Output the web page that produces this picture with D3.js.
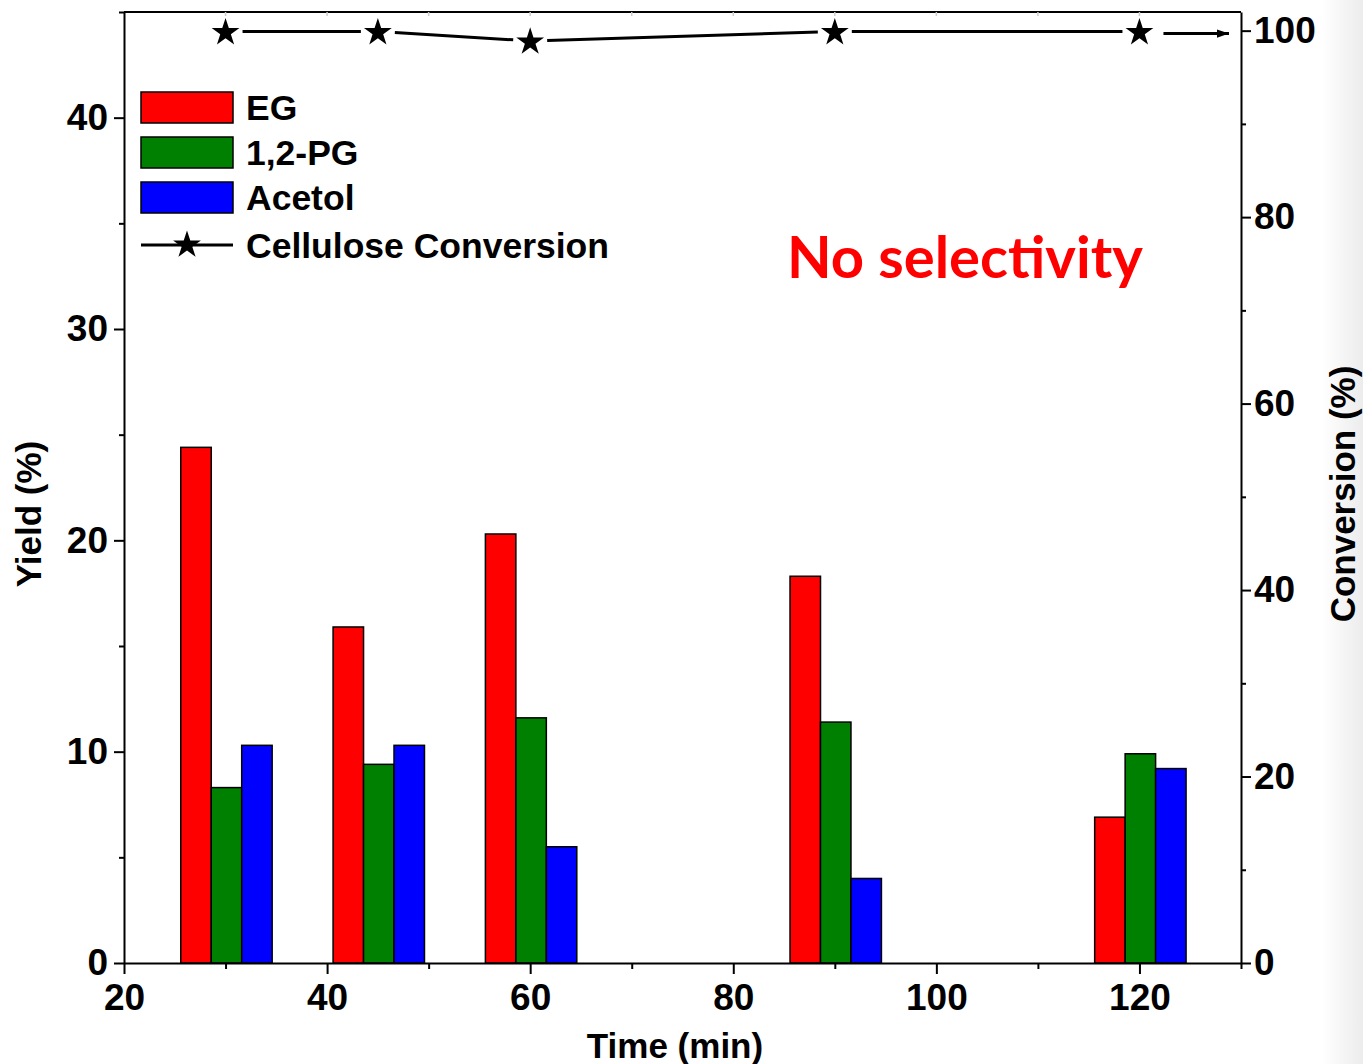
<!DOCTYPE html>
<html>
<head>
<meta charset="utf-8">
<script src="https://cdn.jsdelivr.net/npm/d3@7"></script>
<style>
  html, body { margin: 0; padding: 0; background: #fff; }
  svg { display: block; }
</style>
</head>
<body>
<div id="chart"></div>
<script>
// data
const times = [30, 45, 60, 90, 120];
const series = ["EG", "1,2-PG", "Acetol"];
const colors = ["#ff0000", "#008000", "#0000ff"];
const egYield = [24.4, 15.9, 20.3, 18.3, 6.9];
const pgYield = [8.3, 9.4, 11.6, 11.4, 9.9];
const acetolYield = [10.3, 10.3, 5.5, 4.0, 9.2];
const conversion = [99.9, 99.9, 98.9, 99.9, 99.9];
const xTicks = [20, 40, 60, 80, 100, 120];
const yTicks = [0, 10, 20, 30, 40];
const y2Ticks = [0, 20, 40, 60, 80, 100];

const width = 1363;
const height = 1064;
const plotLeft = 124, plotRight = 1241, plotTop = 12, plotBottom = 963;
const font = "'Liberation Sans', Arial, sans-serif";

const x = d3.scaleLinear().domain([20, 130]).range([plotLeft, plotRight]);
const y = d3.scaleLinear().domain([0, 45]).range([plotBottom, plotTop]);
const y2 = d3.scaleLinear().domain([0, 102]).range([plotBottom, plotTop]);

const svg = d3.create("svg")
    .attr("width", width)
    .attr("height", height)
    .attr("viewBox", [0, 0, width, height]);

// faint shade at the right edge of the picture
const defs = svg.append("defs");
const grad = defs.append("linearGradient")
    .attr("id", "edge").attr("x1", 0).attr("x2", 1).attr("y1", 0).attr("y2", 0);
grad.append("stop").attr("offset", 0).attr("stop-color", "#fff");
grad.append("stop").attr("offset", 1).attr("stop-color", "#ececec");
svg.append("rect").attr("x", 1322).attr("y", 0).attr("width", 41).attr("height", height)
    .attr("fill", "url(#edge)");

defs.append("marker")
    .attr("id", "arrow")
    .attr("viewBox", "0 0 10 10")
    .attr("refX", 10).attr("refY", 5)
    .attr("markerWidth", 6).attr("markerHeight", 4)
    .attr("markerUnits", "strokeWidth")
    .attr("orient", "auto")
    .append("path").attr("d", "M0,1.5L10,5L0,8.5Z").attr("fill", "#000");

// bars
const yields = [egYield, pgYield, acetolYield];
const barW = 3; // minutes
const bars = svg.append("g").attr("stroke", "#000").attr("stroke-width", 1.5);
yields.forEach((vals, s) => {
  bars.selectAll(null)
    .data(times.map((t, i) => ({ t, v: vals[i] })))
    .join("rect")
    .attr("x", d => x(d.t - 1.47 * barW + s * barW))
    .attr("width", d => x(d.t + barW) - x(d.t))
    .attr("y", d => y(d.v))
    .attr("height", d => y(0) - y(d.v))
    .attr("fill", colors[s]);
});

// axes
const axisStyle = g => {
  g.select(".domain").attr("stroke-width", 2);
  g.selectAll(".tick line").attr("stroke-width", 2);
  g.selectAll("text").attr("font-family", font).attr("font-weight", "bold")
    .attr("font-size", 37).attr("fill", "#000");
};

svg.append("g")
    .attr("transform", `translate(0,${plotBottom})`)
    .call(d3.axisBottom(x).tickValues(d3.range(30, 131, 20)).tickSize(6).tickFormat(""))
    .call(g => g.select(".domain").remove())
    .selectAll(".tick line").attr("stroke-width", 2);
svg.append("g")
    .attr("transform", `translate(0,${plotBottom})`)
    .call(d3.axisBottom(x).tickValues(xTicks).tickSize(11).tickPadding(10).tickSizeOuter(0))
    .call(axisStyle);

svg.append("g")
    .attr("transform", `translate(${plotLeft},0)`)
    .call(d3.axisLeft(y).tickValues(d3.range(5, 46, 10)).tickSize(5).tickFormat(""))
    .call(g => g.select(".domain").remove())
    .selectAll(".tick line").attr("stroke-width", 2);
svg.append("g")
    .attr("transform", `translate(${plotLeft},0)`)
    .call(d3.axisLeft(y).tickValues(yTicks).tickSize(10).tickPadding(6).tickSizeOuter(0))
    .call(axisStyle);

svg.append("g")
    .attr("transform", `translate(${plotRight},0)`)
    .call(d3.axisRight(y2).tickValues(d3.range(10, 91, 20)).tickSize(5).tickFormat(""))
    .call(g => g.select(".domain").remove())
    .selectAll(".tick line").attr("stroke-width", 2);
svg.append("g")
    .attr("transform", `translate(${plotRight},0)`)
    .call(d3.axisRight(y2).tickValues(y2Ticks).tickSize(10).tickPadding(3).tickSizeOuter(0))
    .call(axisStyle);

// top frame with faint inner ticks
svg.append("line")
    .attr("x1", plotLeft).attr("x2", plotRight).attr("y1", plotTop).attr("y2", plotTop)
    .attr("stroke", "#000").attr("stroke-width", 2);
svg.append("g").selectAll("line")
    .data(d3.range(30, 130, 10))
    .join("line")
    .attr("x1", d => x(d)).attr("x2", d => x(d))
    .attr("y1", plotTop).attr("y2", plotTop + 4)
    .attr("stroke", "#ccc").attr("stroke-width", 1.5);

// conversion line with gaps around the stars
const pts = times.map((t, i) => [x(t), y2(conversion[i])]);
const gap = 17;
const segs = d3.pairs(pts).map(([a, b]) => {
  const dx = b[0] - a[0], dy = b[1] - a[1], len = Math.hypot(dx, dy);
  return [a[0] + dx / len * gap, a[1] + dy / len * gap, b[0] - dx / len * gap, b[1] - dy / len * gap];
});
svg.append("g").selectAll("line")
    .data(segs)
    .join("line")
    .attr("x1", d => d[0]).attr("y1", d => d[1])
    .attr("x2", d => d[2]).attr("y2", d => d[3])
    .attr("stroke", "#000").attr("stroke-width", 3);

const last = pts[pts.length - 1];
svg.append("line")
    .attr("x1", last[0] + 24).attr("y1", last[1] + 2)
    .attr("x2", plotRight - 12).attr("y2", last[1] + 2)
    .attr("stroke", "#000").attr("stroke-width", 3)
    .attr("marker-end", "url(#arrow)");

const star = d3.symbol(d3.symbolStar, 240);
svg.append("g").selectAll("path")
    .data(pts)
    .join("path")
    .attr("transform", d => `translate(${d[0]},${d[1] + 1})`)
    .attr("d", star)
    .attr("fill", "#000");

// legend
const legend = svg.append("g").attr("font-family", font).attr("font-weight", "bold").attr("font-size", 35.5);
series.forEach((name, i) => {
  const cy = 107 + i * 45;
  legend.append("rect")
      .attr("x", 141).attr("y", cy - 15).attr("width", 92).attr("height", 31)
      .attr("fill", colors[i]).attr("stroke", "#000").attr("stroke-width", 1.5);
  legend.append("text").attr("x", 246).attr("y", cy).attr("dy", "0.36em").text(name);
});
legend.append("line").attr("x1", 141).attr("x2", 233).attr("y1", 245).attr("y2", 245)
    .attr("stroke", "#000").attr("stroke-width", 3);
legend.append("path").attr("transform", "translate(187,245)").attr("d", star).attr("fill", "#000");
legend.append("text").attr("x", 246).attr("y", 245).attr("dy", "0.36em").text("Cellulose Conversion");

// annotation
svg.append("text")
    .attr("x", 787).attr("y", 278)
    .attr("font-family", "Lato, 'Open Sans', sans-serif")
    .attr("font-weight", "bold").attr("font-size", 58)
    .attr("fill", "#ff0000")
    .text("No selectivity");

// axis titles
const titles = svg.append("g").attr("font-family", font).attr("font-weight", "bold")
    .attr("font-size", 35).attr("text-anchor", "middle");
titles.append("text").attr("x", 675).attr("y", 1058).text("Time (min)");
titles.append("text").attr("transform", "translate(41,514) rotate(-90)").text("Yield (%)");
titles.append("text").attr("transform", "translate(1355,494) rotate(-90)").text("Conversion (%)");

document.getElementById("chart").appendChild(svg.node());
</script>
</body>
</html>
